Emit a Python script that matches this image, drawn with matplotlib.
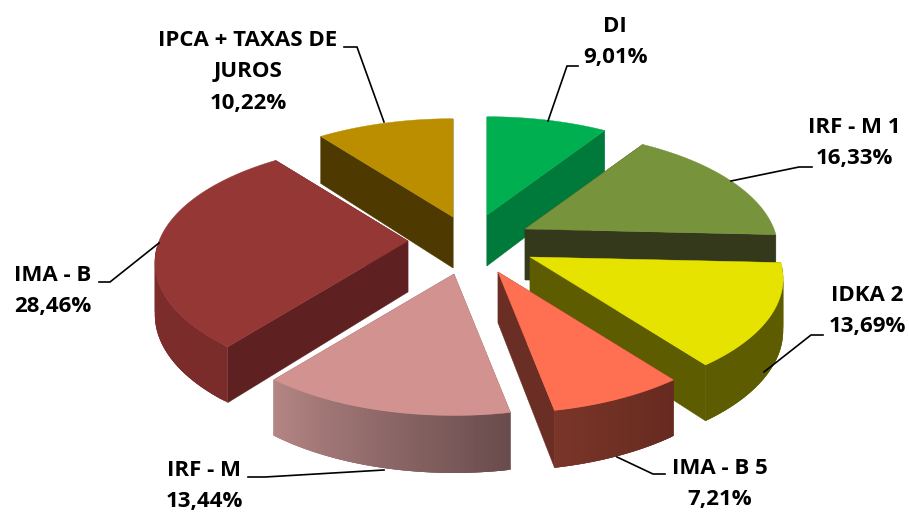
import numpy as np
import matplotlib
matplotlib.use("Agg")
import matplotlib.pyplot as plt
from matplotlib.patches import Polygon

names = ["DI", "IRF - M 1", "IDKA 2", "IMA - B 5", "IRF - M", "IMA - B", "IPCA + TAXAS DE\nJUROS"]
values = [9.01, 16.33, 13.69, 7.21, 13.44, 28.46, 10.22]
value_labels = ["9,01%", "16,33%", "13,69%", "7,21%", "13,44%", "28,46%", "10,22%"]

# styling
apex = [(487, 215), (525, 229), (530, 257), (498, 272), (454, 274), (408, 241), (453, 217)]
top_col = ["#00B050", "#77933C", "#E6E300", "#FF6F52", "#D29290", "#953735", "#BB8E00"]
wall_col = ["#007A3A", "#33391A", "#5E5C00", "#6B2E24", "#8A5F5E", "#5E2020", "#4E3A00"]
outer_from = ["#00803A", "#5F762F", "#5E5C00", "#7A3528", "#B48684", "#822F2D", "#5A4400"]
outer_to = ["#00803A", "#5F762F", "#5E5C00", "#662A20", "#694C4D", "#7A2C2A", "#5A4400"]
label_pos = [(615, 42), (854, 143), (867, 311), (720, 484), (204, 486), (53, 291), (248, 72)]
leaders = [[(578, 66), (567, 66), (548, 121)],
           [(812, 167), (799, 167), (731, 181)],
           [(823, 335), (811, 335), (764, 372)],
           [(665, 474), (653, 474), (617, 457)],
           [(248, 477), (265, 477), (384, 470)],
           [(99, 282), (110, 282), (159, 243)],
           [(344, 47), (357, 47), (384, 122)]]
order = [6, 0, 1, 5, 2, 3, 4]
R, Q, K, DEPTH = 249.0, 116.0, 0.18, 51.0


def project(t, centre):
    u, v = np.sin(t), np.cos(t)
    s = 1.0 / (1.0 + K * v)
    pts = np.column_stack([centre[0] + R * u * s, centre[1] - Q * v * s])
    low = pts + np.column_stack([np.zeros_like(s), DEPTH * s ** 0.6])
    return pts, low


def mix(c1, c2, f):
    a, b = np.array(matplotlib.colors.to_rgb(c1)), np.array(matplotlib.colors.to_rgb(c2))
    return a + (b - a) * f


fig = plt.figure(figsize=(9.09, 5.12), dpi=100)
ax = fig.add_axes([0, 0, 1, 1])
ax.set_xlim(0, 909)
ax.set_ylim(512, 0)
ax.axis("off")

frac = np.array(values) / np.sum(values) * 2 * np.pi
edges = np.concatenate([[0], np.cumsum(frac)])

for i in order:
    c = np.array(apex[i], float)
    c_low = c + np.array([0, DEPTH])
    ts = np.linspace(edges[i], edges[i + 1], 120)
    arc, low = project(ts, c)
    # radial walls
    for e in (0, -1):
        quad = [c, arc[e], low[e], c_low]
        ax.add_patch(Polygon(quad, closed=True, fc=wall_col[i], ec=wall_col[i], lw=0.3))
    # outer wall: each strip overlaps the next one so no seams show
    n = len(ts) - 1
    for j in range(n):
        if np.cos(ts[j]) > -0.06:
            continue
        k = min(j + 3, n)
        col = mix(outer_to[i], outer_from[i], j / n)
        ax.add_patch(Polygon(np.vstack([arc[j:k + 1], low[j:k + 1][::-1]]), closed=True,
                             fc=col, ec="none", lw=0))
    # top face
    ax.add_patch(Polygon(np.vstack([c, arc]), closed=True, fc=top_col[i], ec=top_col[i], lw=0.3))

for i in range(len(values)):
    ax.plot(*zip(*leaders[i]), color="black", lw=1.2, solid_joinstyle="miter")
    ax.text(label_pos[i][0], label_pos[i][1], names[i] + "\n" + value_labels[i],
            ha="center", va="center", family="Open Sans", weight="bold",
            fontsize=16, color="black", linespacing=1.66)

fig.savefig("out.png", dpi=100)
